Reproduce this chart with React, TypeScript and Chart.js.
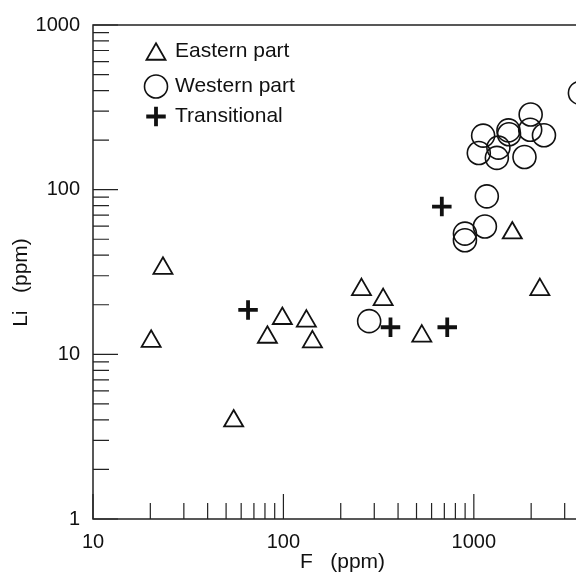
import React, { useEffect, useRef } from 'react';
import { Chart, registerables } from 'chart.js';
import { drawPoint } from 'chart.js/helpers';

Chart.register(...registerables);

// ---- data ----
const seriesNames = ['Eastern part', 'Western part', 'Transitional'];
const easternF = [20.2, 23.3, 54.8, 82.4, 98.7, 132, 142, 257, 334, 533, 1592, 2222];
const easternLi = [12.0, 33.3, 3.94, 12.7, 16.5, 15.9, 11.9, 24.7, 21.5, 12.9, 54.6, 24.7];
const westernF = [282, 898, 898, 1143, 1170, 1119, 1062, 1346, 1321, 1520, 1530, 1988, 1977, 2335, 1845, 3607];
const westernLi = [15.9, 54.1, 49.3, 59.7, 91.1, 213, 167, 180, 156, 229, 217, 286, 231, 214, 158, 387];
const transF = [65.2, 365, 725, 679];
const transLi = [18.6, 14.6, 14.6, 78.9];
const xTickLabels = [10, 100, 1000];
const yTickLabels = [1, 10, 100, 1000];
const xRange = [10, 3440];
const yRange = [1, 1000];
const xTitle = 'F   (ppm)';
const yTitle = 'Li   (ppm)';

const FONT = '"Liberation Sans", Arial, Helvetica, sans-serif';
const INK = '#111';

const zip = (xs: number[], ys: number[]) => xs.map((x, i) => ({ x, y: ys[i] }));

const tickLen = (v: number) => {
  const e = Math.floor(Math.log10(v) + 1e-9);
  const s = v / Math.pow(10, e);
  if (Math.abs(s - Math.round(s)) > 1e-6) return 0;
  return Math.round(s) === 1 ? 25 : 16;
};

const framePlugin = {
  id: 'frameAndLegend',
  beforeDatasetsDraw(chart: any) {
    const { ctx, chartArea: a, scales } = chart;
    ctx.save();
    ctx.strokeStyle = '#222';
    ctx.lineWidth = 1.5;
    ctx.beginPath();
    ctx.moveTo(chart.width, a.top);
    ctx.lineTo(a.left, a.top);
    ctx.lineTo(a.left, a.bottom);
    ctx.lineTo(chart.width, a.bottom);
    ctx.stroke();
    ctx.lineWidth = 1.2;
    ctx.beginPath();
    for (const t of scales.x.ticks) {
      const l = tickLen(t.value);
      if (!l) continue;
      const p = scales.x.getPixelForValue(t.value);
      ctx.moveTo(p, a.bottom);
      ctx.lineTo(p, a.bottom - l);
    }
    for (const t of scales.y.ticks) {
      const l = tickLen(t.value);
      if (!l) continue;
      const p = scales.y.getPixelForValue(t.value);
      ctx.moveTo(a.left, p);
      ctx.lineTo(a.left + l, p);
    }
    ctx.stroke();
    ctx.restore();
  },
  afterDraw(chart: any) {
    const { ctx } = chart;
    ctx.save();
    ctx.fillStyle = INK;
    ctx.font = `21px ${FONT}`;
    ctx.textBaseline = 'middle';
    // axis titles
    ctx.textAlign = 'center';
    ctx.fillText(xTitle, 342.5, 562);
    ctx.save();
    ctx.translate(21, 282.5);
    ctx.rotate(-Math.PI / 2);
    ctx.fillText(yTitle, 0, 0);
    ctx.restore();
    // legend
    const rows = [51, 86.5, 116.5];
    chart.data.datasets.forEach((ds: any, i: number) => {
      const y = rows[i];
      const r = ds.pointRadius;
      const sy = ds.pointStyle === 'triangle' ? y + r / 4 + 0.5 : y;
      ctx.save();
      ctx.strokeStyle = ds.borderColor;
      ctx.fillStyle = 'rgba(0,0,0,0)';
      ctx.lineWidth = ds.borderWidth;
      drawPoint(ctx, { pointStyle: ds.pointStyle, radius: r, rotation: 0, borderWidth: ds.borderWidth }, 156, sy);
      ctx.restore();
      ctx.textAlign = 'left';
      ctx.fillStyle = INK;
      ctx.fillText(ds.label, 175, y);
    });
    ctx.restore();
  },
};

export default function App() {
  const ref = useRef<HTMLCanvasElement>(null);
  useEffect(() => {
    if (!ref.current) return;
    const common = { borderColor: INK, backgroundColor: 'rgba(0,0,0,0)', clip: false };
    const chart = new Chart(ref.current, {
      type: 'scatter',
      data: {
        datasets: [
          { ...common, label: seriesNames[0], data: zip(easternF, easternLi), pointStyle: 'triangle', pointRadius: 11, borderWidth: 1.8 },
          { ...common, label: seriesNames[1], data: zip(westernF, westernLi), pointStyle: 'circle', pointRadius: 11.5, borderWidth: 1.6 },
          { ...common, label: seriesNames[2], data: zip(transF, transLi), pointStyle: 'cross', pointRadius: 9.75, borderWidth: 3.8 },
        ] as any,
      },
      options: {
        animation: false,
        responsive: false,
        events: [],
        layout: { autoPadding: false, padding: { top: 24, right: 0, bottom: 0, left: 0 } },
        plugins: { legend: { display: false }, tooltip: { enabled: false } },
        scales: {
          x: {
            type: 'logarithmic',
            min: xRange[0],
            max: xRange[1],
            grid: { display: false, drawTicks: false },
            border: { display: false },
            afterFit: (s: any) => { s.height = 63; s.paddingRight = 0; s.paddingLeft = 0; },
            ticks: {
              autoSkip: false,
              maxRotation: 0,
              padding: 11,
              color: INK,
              font: { family: FONT, size: 20 },
              callback: (v: any) => (xTickLabels.includes(Number(v)) ? String(v) : ''),
            },
          },
          y: {
            type: 'logarithmic',
            min: yRange[0],
            max: yRange[1],
            grid: { display: false, drawTicks: false },
            border: { display: false },
            afterFit: (s: any) => { s.width = 93; },
            ticks: {
              autoSkip: false,
              padding: 13,
              color: INK,
              font: { family: FONT, size: 20 },
              callback: (v: any) => (yTickLabels.includes(Number(v)) ? String(v) : ''),
            },
          },
        },
      } as any,
      plugins: [framePlugin],
    });
    return () => chart.destroy();
  }, []);
  return (
    <div style={{ position: 'absolute', left: 0, top: 0, width: 576, height: 582, background: '#fff' }}>
      <canvas ref={ref} width={576} height={582} style={{ display: 'block' }} />
    </div>
  );
}
